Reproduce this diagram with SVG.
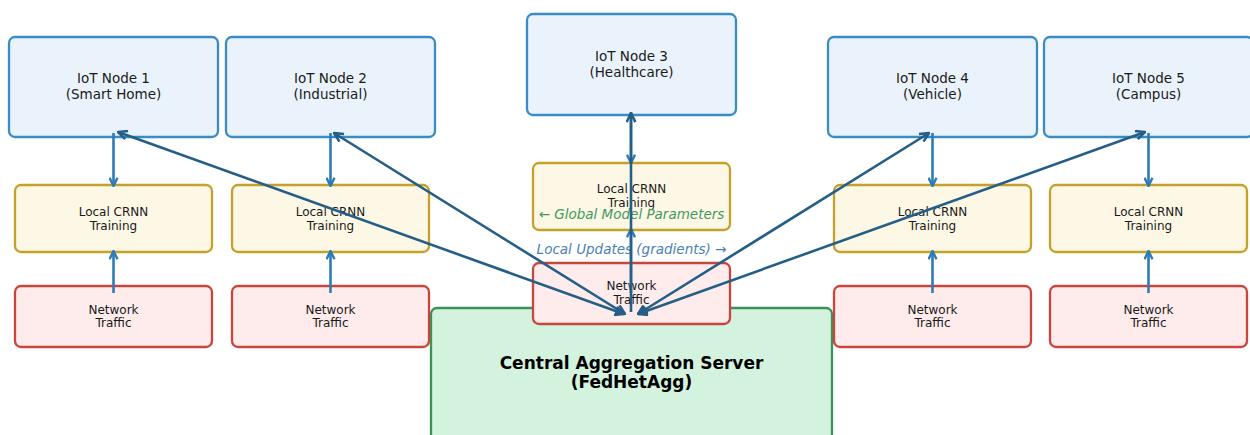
<svg xmlns="http://www.w3.org/2000/svg" width="1250" height="435" viewBox="0 0 1250 435">
  <style>
    .node rect { stroke-width: 2.3; }
    .iot rect { fill: #eaf3fb; stroke: #3a8cc4; }
    .crnn rect { fill: #fdf7e6; stroke: #c4a12a; }
    .traffic rect { fill: #fdeceb; stroke: #c8463c; }
    .server rect { fill: #d3f3df; stroke: #3a9256; }
    text { font-family: "DejaVu Sans", "Liberation Sans", sans-serif; fill: #1a1a1a; text-anchor: middle; }
    .t-iot { font-size: 13.5px; }
    .t-small { font-size: 12px; }
    .t-server { font-size: 17px; font-weight: bold; fill: #000; }
    .lbl { font-size: 13.5px; font-style: italic; }
    .link { fill: none; stroke-width: 2.6; }
    .local { stroke: #2d7bb6; marker-end: url(#headLocal); }
    .fed { stroke: #255e86; marker-start: url(#headFed); marker-end: url(#headFed); }
  </style>
  <defs>
    <marker id="headLocal" viewBox="0 0 10 10" refX="9.3" refY="5" markerWidth="10" markerHeight="10" markerUnits="userSpaceOnUse" orient="auto-start-reverse">
      <path d="M1,1 L9.3,5 L1,9" fill="none" stroke="#2d7bb6" stroke-width="2.4"/>
    </marker>
    <marker id="headFed" viewBox="0 0 10 10" refX="9.3" refY="5" markerWidth="11" markerHeight="11" markerUnits="userSpaceOnUse" orient="auto-start-reverse">
      <path d="M1,1 L9.3,5 L1,9" fill="none" stroke="#255e86" stroke-width="2.3"/>
    </marker>
  </defs>

  <!-- aggregation server -->
  <g id="server" class="node server">
    <rect x="431" y="308" width="401" height="140" rx="6"/>
    <text class="t-server" x="631.5" y="369">Central Aggregation Server</text>
    <text class="t-server" x="631.5" y="388">(FedHetAgg)</text>
  </g>

  <!-- IoT nodes -->
  <g id="iot1" class="node iot">
    <rect x="9" y="37" width="209" height="100" rx="6"/>
    <text class="t-iot" x="113.5" y="83">IoT Node 1</text>
    <text class="t-iot" x="113.5" y="99">(Smart Home)</text>
  </g>
  <g id="iot2" class="node iot">
    <rect x="226" y="37" width="209" height="100" rx="6"/>
    <text class="t-iot" x="330.5" y="83">IoT Node 2</text>
    <text class="t-iot" x="330.5" y="99">(Industrial)</text>
  </g>
  <g id="iot3" class="node iot">
    <rect x="527" y="14" width="209" height="101" rx="6"/>
    <text class="t-iot" x="631.5" y="61">IoT Node 3</text>
    <text class="t-iot" x="631.5" y="77">(Healthcare)</text>
  </g>
  <g id="iot4" class="node iot">
    <rect x="828" y="37" width="209" height="100" rx="6"/>
    <text class="t-iot" x="932.5" y="83">IoT Node 4</text>
    <text class="t-iot" x="932.5" y="99">(Vehicle)</text>
  </g>
  <g id="iot5" class="node iot">
    <rect x="1044" y="37" width="209" height="100" rx="6"/>
    <text class="t-iot" x="1148.5" y="83">IoT Node 5</text>
    <text class="t-iot" x="1148.5" y="99">(Campus)</text>
  </g>

  <!-- local training blocks -->
  <g id="crnn1" class="node crnn">
    <rect x="15" y="185" width="197" height="67" rx="6"/>
    <text class="t-small" x="113.5" y="215.5">Local CRNN</text>
    <text class="t-small" x="113.5" y="229.5">Training</text>
  </g>
  <g id="crnn2" class="node crnn">
    <rect x="232" y="185" width="197" height="67" rx="6"/>
    <text class="t-small" x="330.5" y="215.5">Local CRNN</text>
    <text class="t-small" x="330.5" y="229.5">Training</text>
  </g>
  <g id="crnn3" class="node crnn">
    <rect x="533" y="163" width="197" height="67" rx="6"/>
    <text class="t-small" x="631.5" y="192.5">Local CRNN</text>
    <text class="t-small" x="631.5" y="206.5">Training</text>
  </g>
  <g id="crnn4" class="node crnn">
    <rect x="834" y="185" width="197" height="67" rx="6"/>
    <text class="t-small" x="932.5" y="215.5">Local CRNN</text>
    <text class="t-small" x="932.5" y="229.5">Training</text>
  </g>
  <g id="crnn5" class="node crnn">
    <rect x="1050" y="185" width="197" height="67" rx="6"/>
    <text class="t-small" x="1148.5" y="215.5">Local CRNN</text>
    <text class="t-small" x="1148.5" y="229.5">Training</text>
  </g>

  <!-- traffic sources -->
  <g id="traffic1" class="node traffic">
    <rect x="15" y="286" width="197" height="61" rx="6"/>
    <text class="t-small" x="113.5" y="313.5">Network</text>
    <text class="t-small" x="113.5" y="327">Traffic</text>
  </g>
  <g id="traffic2" class="node traffic">
    <rect x="232" y="286" width="197" height="61" rx="6"/>
    <text class="t-small" x="330.5" y="313.5">Network</text>
    <text class="t-small" x="330.5" y="327">Traffic</text>
  </g>
  <g id="traffic3" class="node traffic">
    <rect x="533" y="263" width="197" height="61" rx="6"/>
    <text class="t-small" x="631.5" y="289.5">Network</text>
    <text class="t-small" x="631.5" y="303.5">Traffic</text>
  </g>
  <g id="traffic4" class="node traffic">
    <rect x="834" y="286" width="197" height="61" rx="6"/>
    <text class="t-small" x="932.5" y="313.5">Network</text>
    <text class="t-small" x="932.5" y="327">Traffic</text>
  </g>
  <g id="traffic5" class="node traffic">
    <rect x="1050" y="286" width="197" height="61" rx="6"/>
    <text class="t-small" x="1148.5" y="313.5">Network</text>
    <text class="t-small" x="1148.5" y="327">Traffic</text>
  </g>

  <!-- flow labels -->
  <g id="labels">
    <text class="lbl" x="631.5" y="219" style="fill:#3f9a5c">← Global Model Parameters</text>
    <text class="lbl" x="631.5" y="254" style="fill:#4a80b2">Local Updates (gradients) →</text>
  </g>

  <!-- connectors -->
  <g id="connectors">
    <!-- node to local training -->
    <line class="link local" x1="113.5" y1="133" x2="113.5" y2="186"/>
    <line class="link local" x1="330.5" y1="133" x2="330.5" y2="186"/>
    <line class="link local" x1="631" y1="112" x2="631" y2="163"/>
    <line class="link local" x1="932.5" y1="133" x2="932.5" y2="186"/>
    <line class="link local" x1="1148.5" y1="133" x2="1148.5" y2="186"/>
    <!-- traffic into local training -->
    <line class="link local" x1="113.5" y1="293" x2="113.5" y2="251"/>
    <line class="link local" x1="330.5" y1="293" x2="330.5" y2="251"/>
    <line class="link local" x1="631" y1="293" x2="631" y2="229"/>
    <line class="link local" x1="932.5" y1="293" x2="932.5" y2="251"/>
    <line class="link local" x1="1148.5" y1="293" x2="1148.5" y2="251"/>
    <!-- federated exchange with the server -->
    <line class="link fed" x1="118" y1="132" x2="624" y2="314"/>
    <line class="link fed" x1="334" y1="133" x2="625" y2="314"/>
    <line class="link fed" x1="929" y1="133" x2="638" y2="314"/>
    <line class="link fed" x1="1145" y1="132" x2="638" y2="314"/>
    <line class="link" stroke="#255e86" x1="631" y1="312" x2="631" y2="113" marker-end="url(#headFed)"/>
  </g>
</svg>
